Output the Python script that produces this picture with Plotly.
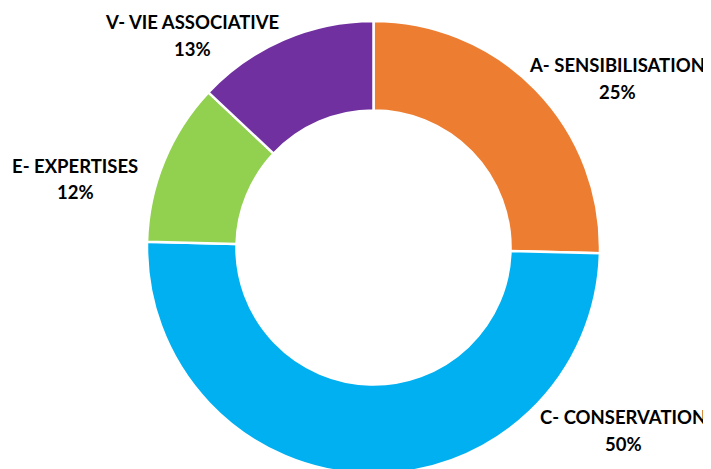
import plotly.graph_objects as go

labels = ["A- SENSIBILISATION", "C- CONSERVATION", "E- EXPERTISES", "V- VIE ASSOCIATIVE"]
values = [25.4, 50.0, 11.6, 13.0]
colors = ["#ED7D31", "#00B0F0", "#92D050", "#7030A0"]

# label centres in pixels (name line, percent line)
label_x = [609, 615, 67, 184]
name_y = [57, 409, 158, 14]
pct_y = [84, 436, 184, 41]

W, H = 711, 469

fig = go.Figure()
fig.add_trace(go.Pie(
    labels=labels,
    values=values,
    marker=dict(colors=colors, line=dict(color="white", width=2.5)),
    hole=0.605,
    sort=False,
    direction="clockwise",
    rotation=0,
    textinfo="none",
    hoverinfo="label+percent",
    showlegend=False,
    domain=dict(x=[139 / W, 592 / W], y=[3 / H, 456 / H]),
))

total = sum(values)
for lab, v, x, y1, y2 in zip(labels, values, label_x, name_y, pct_y):
    for txt, y in ((lab, y1), (f"{v / total * 100:.0f}%", y2)):
        fig.add_annotation(
            x=x / W, y=1 - y / H, xref="paper", yref="paper",
            xanchor="center", yanchor="middle",
            text=f"<b>{txt}</b>",
            showarrow=False,
            font=dict(family="Lato", size=18.5, color="#000000"),
        )

fig.update_layout(
    width=W, height=H,
    margin=dict(l=0, r=0, t=0, b=0),
    paper_bgcolor="white",
    plot_bgcolor="white",
)

fig.write_html("out.html")
